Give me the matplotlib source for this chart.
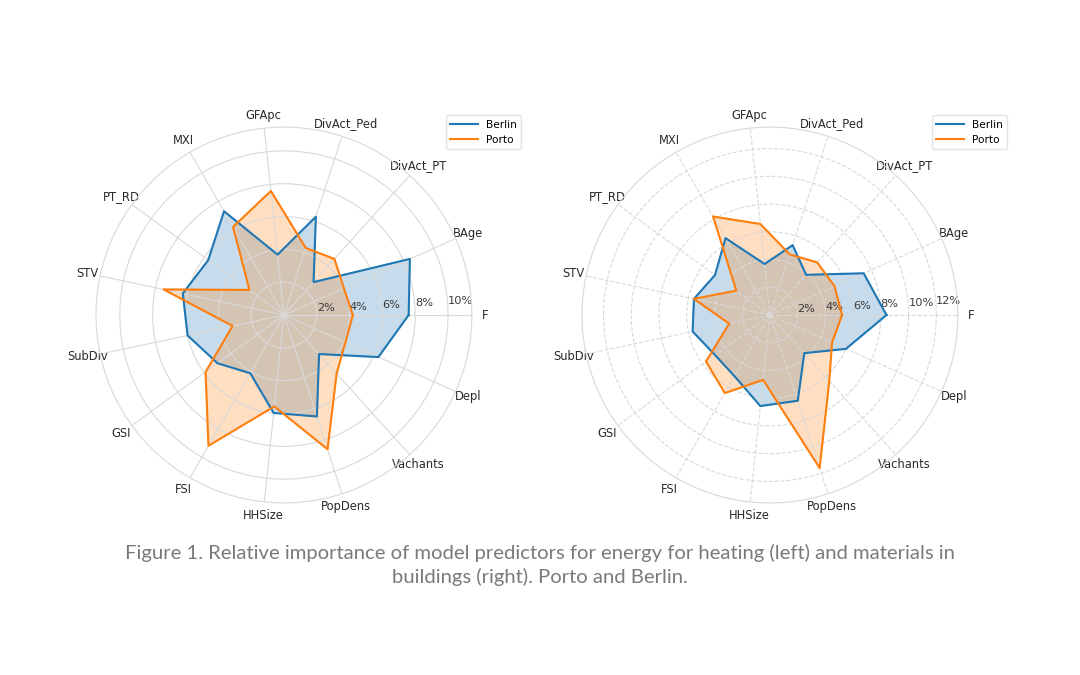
import numpy as np
import matplotlib.pyplot as plt

predictors = ["F", "BAge", "DivAct_PT", "DivAct_Ped", "GFApc", "MXI", "PT_RD", "STV",
              "SubDiv", "GSI", "FSI", "HHSize", "PopDens", "Vachants", "Depl"]

# relative importance (%) - energy for heating
heat_berlin = [7.6, 8.4, 2.7, 6.3, 3.7, 7.3, 5.7, 6.3, 6.0, 5.0, 4.1, 6.0, 6.5, 3.2, 6.3]
heat_porto = [4.2, 4.0, 4.6, 4.3, 7.6, 6.2, 2.6, 7.5, 3.2, 5.9, 9.2, 5.6, 8.6, 4.8, 4.1]

# relative importance (%) - materials in buildings
mat_berlin = [8.4, 7.4, 3.9, 5.3, 3.7, 6.4, 4.9, 5.6, 5.7, 4.9, 5.1, 6.6, 6.5, 3.7, 6.0]
mat_porto = [5.2, 5.1, 5.1, 4.6, 6.6, 8.2, 3.0, 5.6, 3.0, 5.7, 6.5, 4.7, 11.6, 6.4, 4.9]

heat_ticks = [2, 4, 6, 8, 10]
mat_ticks = [2, 4, 6, 8, 10, 12]

caption = ("Figure 1. Relative importance of model predictors for energy for heating (left) and materials in\n"
           "buildings (right). Porto and Berlin.")

BLUE = "#1f77b4"
ORANGE = "#ff7f0e"
GRID = "#d9d9d9"


def radar(ax, berlin, porto, ticks, rmax, ls):
    angles = np.linspace(0, 2 * np.pi, len(predictors), endpoint=False)
    closed = np.concatenate([angles, angles[:1]])
    for vals, color, name in [(berlin, BLUE, "Berlin"), (porto, ORANGE, "Porto")]:
        v = np.concatenate([vals, vals[:1]])
        ax.plot(closed, v, color=color, lw=1.5, label=name)
        ax.fill(closed, v, color=color, alpha=0.25)

    ax.set_xticks(angles)
    ax.set_xticklabels(predictors, fontsize=8.3, color="#2a2a2a")
    ax.tick_params(axis="x", pad=-1)
    ax.set_ylim(0, rmax)
    ax.set_yticks(ticks)
    ax.set_yticklabels([f"{t}%" for t in ticks], fontsize=8.2, color="#3a3a3a")
    ax.set_rlabel_position(3)
    ax.grid(True, color=GRID, lw=0.8, ls=ls)
    ax.spines["polar"].set_color(GRID)
    ax.spines["polar"].set_linewidth(0.8)
    ax.legend(loc="upper right", bbox_to_anchor=(1.145, 1.045), fontsize=7.6,
              edgecolor="#dddddd", handlelength=2.6)


fig = plt.figure(figsize=(10.8, 6.75), dpi=100)
ax1 = fig.add_axes([0.0889, 0.2548, 0.348, 0.557], projection="polar")
ax2 = fig.add_axes([0.5389, 0.2548, 0.348, 0.557], projection="polar")

radar(ax1, heat_berlin, heat_porto, heat_ticks, 11.45, "-")
radar(ax2, mat_berlin, mat_porto, mat_ticks, 13.55, "--")

fig.text(0.5, 0.163, caption, ha="center", va="center", fontsize=14.6,
         family="Lato", color="#7a7a7a", linespacing=1.35)

fig.savefig("out.png", dpi=100, facecolor="white")
